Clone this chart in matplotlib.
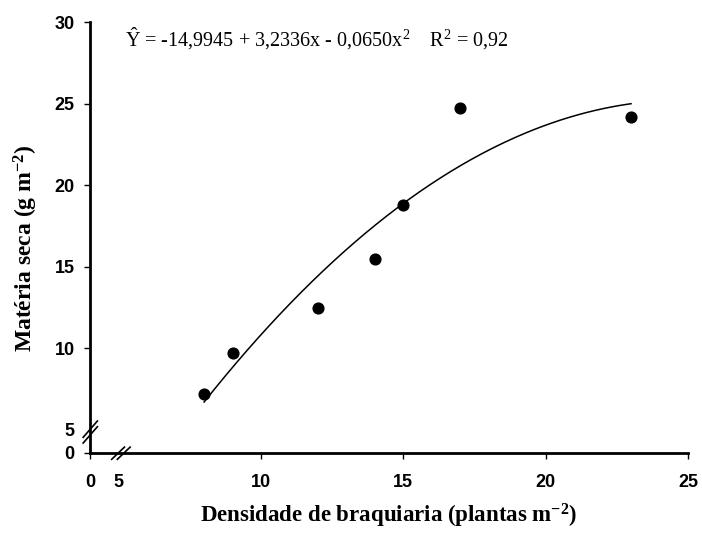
import numpy as np
import matplotlib
matplotlib.use("Agg")
import matplotlib.pyplot as plt

plt.rcParams['mathtext.fontset'] = 'custom'
plt.rcParams['mathtext.rm'] = 'Liberation Serif'
plt.rcParams['mathtext.it'] = 'Liberation Serif:italic'
plt.rcParams['mathtext.bf'] = 'Liberation Serif:bold'

# Data
densidade = [8, 9, 12, 14, 15, 17, 23]
materia_seca = [7.2, 9.7, 12.5, 15.5, 18.8, 24.7, 24.2]
coef = [-14.9945, 3.2336, -0.0650]
x_ticks = [5, 10, 15, 20, 25]
y_ticks = [5, 10, 15, 20, 25, 30]

# broken-axis positions of the "0" labels (compressed gap)
x_zero = 3.99
y_zero = 3.59

fig = plt.figure(figsize=(7.02, 5.34), dpi=100)
ax = fig.add_axes([0.1282, 0.1517, 0.8518, 0.8071])

xc = np.linspace(min(densidade), max(densidade), 200)
yc = coef[0] + coef[1] * xc + coef[2] * xc ** 2
ax.plot(xc, yc, color='black', lw=1.1, zorder=2)
ax.scatter(densidade, materia_seca, s=60, color='black', zorder=3)

ax.set_xlim(x_zero, 25)
ax.set_ylim(y_zero, 30)
ax.set_xticks([x_zero] + x_ticks)
ax.set_xticklabels(['0'] + [str(v) for v in x_ticks])
ax.set_yticks([y_zero] + y_ticks)
ax.set_yticklabels(['0'] + [str(v) for v in y_ticks])
for lab in ax.get_xticklabels() + ax.get_yticklabels():
    lab.set_fontfamily('Liberation Sans')
    lab.set_fontweight('bold')
    lab.set_fontsize(13)
ax.tick_params(axis='both', direction='out', length=4, width=1, color='black')
ax.tick_params(axis='x', pad=11)
ax.tick_params(axis='y', pad=7)
ax.xaxis.get_major_ticks()[1].tick1line.set_visible(False)
ax.yaxis.get_major_ticks()[1].tick1line.set_visible(False)

for s in ['top', 'right']:
    ax.spines[s].set_visible(False)
for s in ['left', 'bottom']:
    ax.spines[s].set_linewidth(2)

# break marks
for dx in (0.0, 0.2):
    ax.plot([4.75 + dx, 5.2 + dx], [3.2, 3.95], color='black', lw=1.2,
            clip_on=False, zorder=5)
for dy in (0.0, 0.35):
    ax.plot([3.75, 4.25], [4.2 + dy, 5.2 + dy], color='black', lw=1.2,
            clip_on=False, zorder=5)

ax.set_xlabel(r"Densidade de braquiaria (plantas m$^{\mathbf{-2}}$)",
              fontfamily='Liberation Serif', fontweight='bold', fontsize=16.5, labelpad=8)
ax.set_ylabel(r"Matéria seca (g m$^{\mathbf{-2}}$)",
              fontfamily='Liberation Serif', fontweight='bold', fontsize=17)
ax.yaxis.set_label_coords(-0.084, 0.475)

ax.text(0.058, 0.9605,
        r"$\hat{\mathrm{Y}}$ = -14,9945 + 3,2336x - 0,0650x$^{2}$    R$^{2}$ = 0,92",
        transform=ax.transAxes, fontfamily='Liberation Serif', fontsize=14.5,
        ha='left', va='center')

fig.savefig('out.png', dpi=100)
